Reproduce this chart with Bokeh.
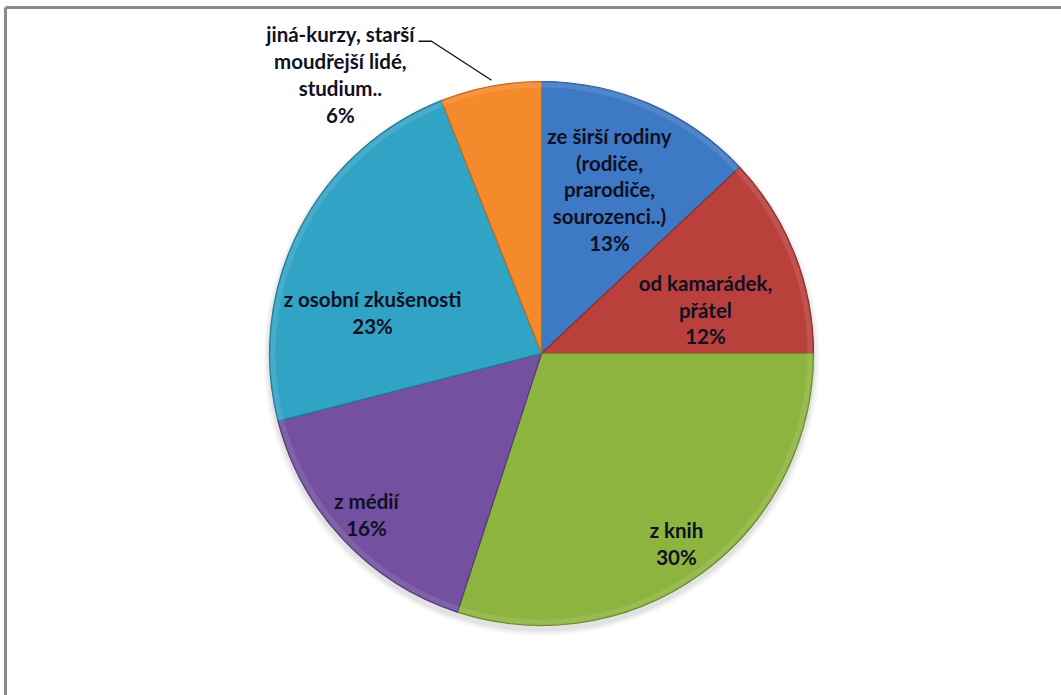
import math
from bokeh.plotting import figure
from bokeh.models import Range1d, ColumnDataSource
from bokeh.core.properties import value
from bokeh.embed import file_html
from bokeh.resources import INLINE

# ---- data ----
categories = [
    "ze širší rodiny\n(rodiče,\nprarodiče,\nsourozenci..)",
    "od kamarádek,\npřátel",
    "z knih",
    "z médií",
    "z osobní zkušenosti",
    "jiná-kurzy, starší\nmoudřejší lidé,\nstudium..",
]
percents = [13, 12, 30, 16, 23, 6]
colors = ["#3E79C5", "#B9403B", "#8DB43F", "#7351A0", "#31A3C4", "#F48A2C"]
edge_colors = ["#2E5E9C", "#8E2F2B", "#6A8A2C", "#553A7C", "#237C96", "#C4691C"]
# label placement (angle clockwise from top in degrees, radius as fraction of pie radius)
label_angle = [22.5, 75.0, 144.6, 227.4, 283.6, 324.2]
label_radius = [0.653, 0.624, 0.857, 0.874, 0.639, 1.264]

W, H = 1061, 695
cx, cy, R = 541, H - 353, 272

p = figure(width=W, height=H, x_range=Range1d(0, W), y_range=Range1d(0, H),
           output_backend="svg", toolbar_location=None,
           x_axis_location=None, y_axis_location=None, min_border=0)
p.grid.visible = False
p.outline_line_color = None
p.background_fill_color = "white"
p.border_fill_color = "white"

# frame lines (top and left)
p.segment(x0=[5, 5], y0=[H - 7, H - 7], x1=[W, 5], y1=[H - 7, 0],
          line_color="#8a8a8a", line_width=3)

total = sum(percents)
starts, ends, mids = [], [], []
cum = 0.0
for v in percents:
    a0 = cum / total * 2 * math.pi
    cum += v
    a1 = cum / total * 2 * math.pi
    starts.append(math.pi / 2 - a0)
    ends.append(math.pi / 2 - a1)
    mids.append((a0 + a1) / 2)

# soft shadow
for k, al in [(6, 0.06), (4, 0.08), (2, 0.1)]:
    p.circle(x=[cx], y=[cy - 4], radius=R + k, fill_color="#808080",
             fill_alpha=al, line_color=None)

src = ColumnDataSource(dict(start=starts, end=ends, color=colors, edge=edge_colors))
p.wedge(x=cx, y=cy, radius=R, start_angle="start", end_angle="end",
        direction="clock", fill_color="color", line_color="edge", line_width=1.2,
        source=src)
# subtle bevel highlight ring
p.annular_wedge(x=cx, y=cy, inner_radius=R - 6, outer_radius=R - 1,
                start_angle="start", end_angle="end", direction="clock",
                fill_color="white", fill_alpha=0.10, line_color=None, source=src)

# labels
lx, ly, lt = [], [], []
for i, (c, v) in enumerate(zip(categories, percents)):
    a = math.radians(label_angle[i])
    rr = label_radius[i] * R
    lx.append(cx + rr * math.sin(a))
    ly.append(cy + rr * math.cos(a))
    lt.append(f"{c}\n{v}%")

p.text(x=lx, y=ly, text=lt, text_align="center", text_baseline="middle",
       text_font=value("Lato"), text_font_style="bold", text_font_size="20.5px",
       text_line_height=1.12, text_color="#101024")

# leader line for the outside label (last slice)
i = len(percents) - 1
am = mids[i]
ex, ey = cx + R * math.sin(am), cy + R * math.cos(am)
ea = math.radians(label_angle[i] + 16.4)
elx, ely = cx + 1.217 * R * math.sin(ea), cy + 1.217 * R * math.cos(ea)
p.line(x=[ex + 1, elx, elx - 13], y=[ey + 6, ely, ely], line_color="#111111", line_width=1.3)

open("out.html", "w").write(file_html(p, INLINE))
